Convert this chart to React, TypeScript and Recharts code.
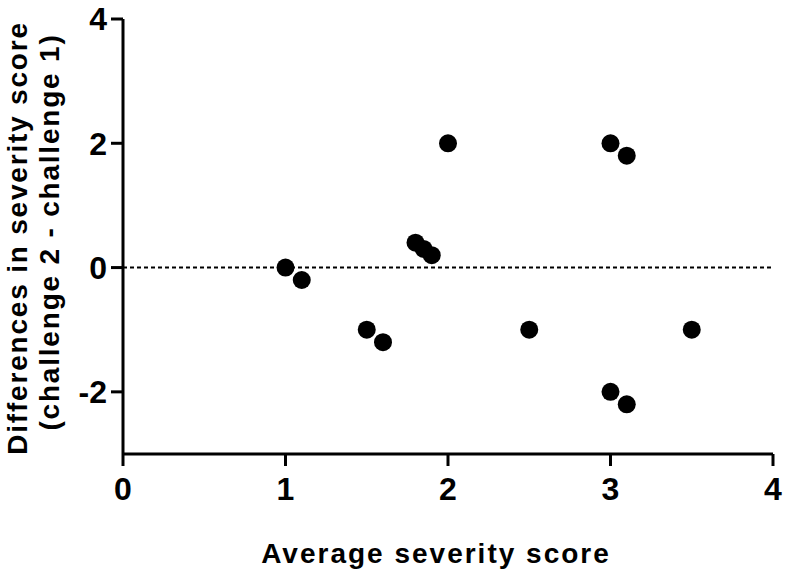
import React from 'react';
import {
  ScatterChart,
  Scatter,
  XAxis,
  YAxis,
  ReferenceLine,
} from 'recharts';

// average severity score vs. difference (challenge 2 - challenge 1)
const avgScore = [1, 1.1, 1.5, 1.6, 1.8, 1.85, 1.9, 2, 2.5, 3, 3.1, 3, 3.1, 3.5];
const diffScore = [0, -0.2, -1, -1.2, 0.4, 0.3, 0.2, 2, -1, 2, 1.8, -2, -2.2, -1];

const xTicks = [0, 1, 2, 3, 4];
const yTicks = [-2, 0, 2, 4];

const points = avgScore.map((x, i) => ({ x, y: diffScore[i] }));

const FONT = '"Liberation Sans", Arial, sans-serif';

const XTick = (props: any) => {
  const { x, y, payload } = props;
  return (
    <text x={x} y={y} dy="0.71em" textAnchor="middle" fontFamily={FONT} fontWeight="bold" fontSize={32} fill="#000">
      {payload.value}
    </text>
  );
};

const YTick = (props: any) => {
  const { x, y, payload } = props;
  return (
    <text x={x} y={y} dy="0.355em" textAnchor="end" fontFamily={FONT} fontWeight="bold" fontSize={32} fill="#000">
      {payload.value}
    </text>
  );
};

const XLabel = (props: any) => {
  const { x, y, width } = props.viewBox;
  return (
    <text
      x={x + width / 2 - 12}
      y={y + 109}
      textAnchor="middle"
      fontFamily={FONT}
      fontWeight="bold"
      fontSize={28}
      letterSpacing={2}
      fill="#000"
    >
      Average severity score
    </text>
  );
};

const YLabel = () => {
  return (
    <g fontFamily={FONT} fontWeight="bold" fontSize={28} letterSpacing={1.8} fill="#000">
      <text x={27} y={238} textAnchor="middle" transform="rotate(-90, 27, 238)">
        Differences in severity score
      </text>
      <text x={59} y={232} textAnchor="middle" transform="rotate(-90, 59, 232)">
        (challenge 2 - challenge 1)
      </text>
    </g>
  );
};

const Dot = (props: any) => <circle cx={props.cx} cy={props.cy} r={9} fill="#000" />;

export default function App() {
  return (
    <div style={{ position: 'absolute', left: 0, top: 0, background: '#fff' }}>
      <ScatterChart width={789} height={578} margin={{ top: 19, right: 16, bottom: 0, left: 0 }}>
        <XAxis
          type="number"
          dataKey="x"
          domain={[0, 4]}
          ticks={xTicks}
          height={124}
          axisLine={{ stroke: '#000', strokeWidth: 3 }}
          tickLine={{ stroke: '#000', strokeWidth: 3 }}
          tickSize={12}
          tickMargin={11}
          tick={<XTick />}
          label={<XLabel />}
        />
        <YAxis
          type="number"
          dataKey="y"
          domain={[-3, 4]}
          ticks={yTicks}
          width={123}
          axisLine={{ stroke: '#000', strokeWidth: 3 }}
          tickLine={{ stroke: '#000', strokeWidth: 3 }}
          tickSize={12}
          tickMargin={4}
          tick={<YTick />}
          label={<YLabel />}
        />
        <ReferenceLine y={0} stroke="#000" strokeWidth={2} strokeDasharray="4 3" />
        <Scatter data={points} shape={<Dot />} isAnimationActive={false} />
      </ScatterChart>
    </div>
  );
}
